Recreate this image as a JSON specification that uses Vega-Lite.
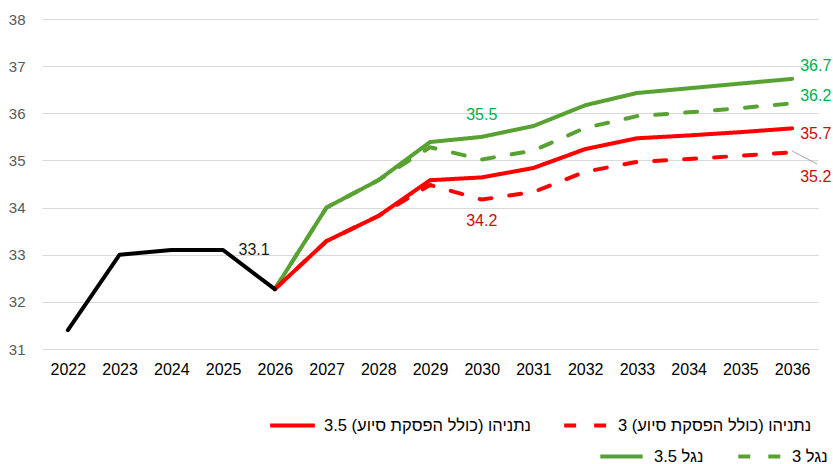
{
  "$schema": "https://vega.github.io/schema/vega-lite/v6.json",
  "width": 776,
  "height": 330,
  "autosize": {"type": "none"},
  "padding": {"left": 42, "top": 19, "right": 15, "bottom": 115},
  "background": "white",
  "config": {
    "view": {"stroke": null},
    "font": "Liberation Sans",
    "axis": {"domain": false, "ticks": false, "labelFont": "Liberation Sans"}
  },
  "datasets": {
    "lines": [
      {"year": 2022, "value": 31.4, "series": "actual"},
      {"year": 2023, "value": 33.0, "series": "actual"},
      {"year": 2024, "value": 33.1, "series": "actual"},
      {"year": 2025, "value": 33.1, "series": "actual"},
      {"year": 2026, "value": 32.27, "series": "actual"},
      {"year": 2026, "value": 32.27, "series": "3.5 נגל"},
      {"year": 2027, "value": 34.0, "series": "3.5 נגל"},
      {"year": 2028, "value": 34.58, "series": "3.5 נגל"},
      {"year": 2029, "value": 35.39, "series": "3.5 נגל"},
      {"year": 2030, "value": 35.5, "series": "3.5 נגל"},
      {"year": 2031, "value": 35.73, "series": "3.5 נגל"},
      {"year": 2032, "value": 36.17, "series": "3.5 נגל"},
      {"year": 2033, "value": 36.43, "series": "3.5 נגל"},
      {"year": 2034, "value": 36.53, "series": "3.5 נגל"},
      {"year": 2035, "value": 36.63, "series": "3.5 נגל"},
      {"year": 2036, "value": 36.73, "series": "3.5 נגל"},
      {"year": 2026, "value": 32.27, "series": "3 נגל"},
      {"year": 2027, "value": 34.0, "series": "3 נגל"},
      {"year": 2028, "value": 34.58, "series": "3 נגל"},
      {"year": 2029, "value": 35.28, "series": "3 נגל"},
      {"year": 2030, "value": 35.02, "series": "3 נגל"},
      {"year": 2031, "value": 35.21, "series": "3 נגל"},
      {"year": 2032, "value": 35.69, "series": "3 נגל"},
      {"year": 2033, "value": 35.94, "series": "3 נגל"},
      {"year": 2034, "value": 36.02, "series": "3 נגל"},
      {"year": 2035, "value": 36.11, "series": "3 נגל"},
      {"year": 2036, "value": 36.21, "series": "3 נגל"},
      {"year": 2026, "value": 32.27, "series": "3.5 נתניהו (כולל הפסקת סיוע)\u200f"},
      {"year": 2027, "value": 33.29, "series": "3.5 נתניהו (כולל הפסקת סיוע)\u200f"},
      {"year": 2028, "value": 33.82, "series": "3.5 נתניהו (כולל הפסקת סיוע)\u200f"},
      {"year": 2029, "value": 34.58, "series": "3.5 נתניהו (כולל הפסקת סיוע)\u200f"},
      {"year": 2030, "value": 34.64, "series": "3.5 נתניהו (כולל הפסקת סיוע)\u200f"},
      {"year": 2031, "value": 34.84, "series": "3.5 נתניהו (כולל הפסקת סיוע)\u200f"},
      {"year": 2032, "value": 35.24, "series": "3.5 נתניהו (כולל הפסקת סיוע)\u200f"},
      {"year": 2033, "value": 35.47, "series": "3.5 נתניהו (כולל הפסקת סיוע)\u200f"},
      {"year": 2034, "value": 35.53, "series": "3.5 נתניהו (כולל הפסקת סיוע)\u200f"},
      {"year": 2035, "value": 35.6, "series": "3.5 נתניהו (כולל הפסקת סיוע)\u200f"},
      {"year": 2036, "value": 35.68, "series": "3.5 נתניהו (כולל הפסקת סיוע)\u200f"},
      {"year": 2026, "value": 32.27, "series": "3 נתניהו (כולל הפסקת סיוע)\u200f"},
      {"year": 2027, "value": 33.29, "series": "3 נתניהו (כולל הפסקת סיוע)\u200f"},
      {"year": 2028, "value": 33.82, "series": "3 נתניהו (כולל הפסקת סיוע)\u200f"},
      {"year": 2029, "value": 34.48, "series": "3 נתניהו (כולל הפסקת סיוע)\u200f"},
      {"year": 2030, "value": 34.17, "series": "3 נתניהו (כולל הפסקת סיוע)\u200f"},
      {"year": 2031, "value": 34.33, "series": "3 נתניהו (כולל הפסקת סיוע)\u200f"},
      {"year": 2032, "value": 34.76, "series": "3 נתניהו (כולל הפסקת סיוע)\u200f"},
      {"year": 2033, "value": 34.97, "series": "3 נתניהו (כולל הפסקת סיוע)\u200f"},
      {"year": 2034, "value": 35.03, "series": "3 נתניהו (כולל הפסקת סיוע)\u200f"},
      {"year": 2035, "value": 35.1, "series": "3 נתניהו (כולל הפסקת סיוע)\u200f"},
      {"year": 2036, "value": 35.17, "series": "3 נתניהו (כולל הפסקת סיוע)\u200f"}
    ],
    "labels": [
      {"year": 2025, "value": 33.1, "label": "33.1", "pos": "mid"},
      {"year": 2030, "value": 35.5, "label": "35.5", "pos": "above"},
      {"year": 2030, "value": 34.2, "label": "34.2", "pos": "below"},
      {"year": 2036, "value": 36.7, "label": "36.7", "pos": "g1"},
      {"year": 2036, "value": 36.2, "label": "36.2", "pos": "g2"},
      {"year": 2036, "value": 35.7, "label": "35.7", "pos": "r1"},
      {"year": 2036, "value": 35.2, "label": "35.2", "pos": "r2"}
    ]
  },
  "encoding": {
    "x": {
      "field": "year", "type": "quantitative",
      "scale": {"domain": [2021.5, 2036.5], "nice": false, "zero": false},
      "axis": {
        "title": null, "grid": false, "format": "d",
        "values": [2022, 2023, 2024, 2025, 2026, 2027, 2028, 2029, 2030, 2031, 2032, 2033, 2034, 2035, 2036],
        "labelFontSize": 16, "labelColor": "#000000", "labelPadding": 12
      }
    },
    "y": {
      "field": "value", "type": "quantitative",
      "scale": {"domain": [31, 38], "nice": false, "zero": false},
      "axis": {
        "title": null, "values": [31, 32, 33, 34, 35, 36, 37, 38],
        "gridColor": "#d9d9d9", "gridWidth": 1.2,
        "labelFontSize": 15, "labelColor": "#595959", "labelPadding": 17
      }
    }
  },
  "layer": [
    {
      "data": {"name": "lines"},
      "transform": [{"filter": "indexof(datum.series, 'נגל') >= 0"}],
      "mark": {"type": "line", "strokeWidth": 4, "strokeCap": "round", "strokeJoin": "round"},
      "encoding": {
        "color": {
          "field": "series", "type": "nominal",
          "scale": {"domain": ["3.5 נגל", "3 נגל"], "range": ["#57A232", "#57A232"]},
          "legend": {
            "title": null, "orient": "none", "legendX": 556, "legendY": 414,
            "direction": "horizontal", "symbolType": "stroke", "symbolSize": 1800,
            "symbolStrokeWidth": 4, "labelFontSize": 16.5, "labelColor": "#000000",
            "labelFont": "Liberation Sans", "columnPadding": 26, "labelOffset": 9
          }
        },
        "strokeDash": {
          "field": "series", "type": "nominal",
          "scale": {"domain": ["3.5 נגל", "3 נגל"], "range": [[1, 0], [12, 18]]},
          "legend": {
            "title": null, "orient": "none", "legendX": 556, "legendY": 414,
            "direction": "horizontal", "symbolType": "stroke", "symbolSize": 1800,
            "symbolStrokeWidth": 4, "labelFontSize": 16.5, "labelColor": "#000000",
            "labelFont": "Liberation Sans", "columnPadding": 26, "labelOffset": 9
          }
        }
      }
    },
    {
      "data": {"name": "lines"},
      "transform": [{"filter": "indexof(datum.series, 'נתניהו') >= 0"}],
      "mark": {"type": "line", "strokeWidth": 4, "strokeCap": "round", "strokeJoin": "round"},
      "encoding": {
        "color": {
          "field": "series", "type": "nominal",
          "scale": {"domain": ["3.5 נתניהו (כולל הפסקת סיוע)\u200f", "3 נתניהו (כולל הפסקת סיוע)\u200f"], "range": ["#FF0000", "#FF0000"]},
          "legend": {
            "title": null, "orient": "none", "legendX": 226, "legendY": 382,
            "direction": "horizontal", "symbolType": "stroke", "symbolSize": 2000,
            "symbolStrokeWidth": 4, "labelFontSize": 16.5, "labelColor": "#000000",
            "labelFont": "Liberation Sans", "columnPadding": 25, "labelOffset": 7, "labelLimit": 400
          }
        },
        "strokeDash": {
          "field": "series", "type": "nominal",
          "scale": {"domain": ["3.5 נתניהו (כולל הפסקת סיוע)\u200f", "3 נתניהו (כולל הפסקת סיוע)\u200f"], "range": [[1, 0], [12, 18]]},
          "legend": {
            "title": null, "orient": "none", "legendX": 226, "legendY": 382,
            "direction": "horizontal", "symbolType": "stroke", "symbolSize": 2000,
            "symbolStrokeWidth": 4, "labelFontSize": 16.5, "labelColor": "#000000",
            "labelFont": "Liberation Sans", "columnPadding": 25, "labelOffset": 7, "labelLimit": 400
          }
        }
      }
    },
    {
      "data": {"name": "lines"},
      "transform": [{"filter": "datum.series == 'actual'"}],
      "mark": {"type": "line", "strokeWidth": 4, "strokeCap": "round", "strokeJoin": "round", "color": "#000000"},
      "encoding": {}
    },
    {
      "data": {"name": "labels"},
      "transform": [{"filter": "datum.pos == 'r2'"}],
      "mark": {"type": "rule", "color": "#a6a6a6", "strokeWidth": 1, "x2Offset": 25, "y2Offset": 13},
      "encoding": {"x2": {"field": "year"}, "y2": {"field": "value"}}
    },
    {
      "data": {"name": "labels"},
      "transform": [{"filter": "datum.pos == 'mid'"}],
      "mark": {"type": "text", "fontSize": 16, "color": "#1a1a1a", "dx": 31, "dy": 0, "align": "center", "baseline": "middle"},
      "encoding": {"text": {"field": "label"}}
    },
    {
      "data": {"name": "labels"},
      "transform": [{"filter": "datum.pos == 'above'"}],
      "mark": {"type": "text", "fontSize": 16, "color": "#00B050", "dy": -22, "align": "center", "baseline": "middle"},
      "encoding": {"text": {"field": "label"}}
    },
    {
      "data": {"name": "labels"},
      "transform": [{"filter": "datum.pos == 'below'"}],
      "mark": {"type": "text", "fontSize": 16, "color": "#CC0A0A", "dy": 23, "align": "center", "baseline": "middle"},
      "encoding": {"text": {"field": "label"}}
    },
    {
      "data": {"name": "labels"},
      "transform": [{"filter": "datum.pos == 'g1'"}],
      "mark": {"type": "text", "fontSize": 16, "color": "#00B050", "dx": 8, "dy": -14, "align": "left", "baseline": "middle"},
      "encoding": {"text": {"field": "label"}}
    },
    {
      "data": {"name": "labels"},
      "transform": [{"filter": "datum.pos == 'g2'"}],
      "mark": {"type": "text", "fontSize": 16, "color": "#00B050", "dx": 8, "dy": -8, "align": "left", "baseline": "middle"},
      "encoding": {"text": {"field": "label"}}
    },
    {
      "data": {"name": "labels"},
      "transform": [{"filter": "datum.pos == 'r1'"}],
      "mark": {"type": "text", "fontSize": 16, "color": "#CC0A0A", "dx": 8, "dy": 7, "align": "left", "baseline": "middle"},
      "encoding": {"text": {"field": "label"}}
    },
    {
      "data": {"name": "labels"},
      "transform": [{"filter": "datum.pos == 'r2'"}],
      "mark": {"type": "text", "fontSize": 16, "color": "#CC0A0A", "dx": 8, "dy": 26, "align": "left", "baseline": "middle"},
      "encoding": {"text": {"field": "label"}}
    }
  ],
  "resolve": {
    "scale": {"color": "independent", "strokeDash": "independent"},
    "legend": {"color": "independent", "strokeDash": "independent"}
  }
}
